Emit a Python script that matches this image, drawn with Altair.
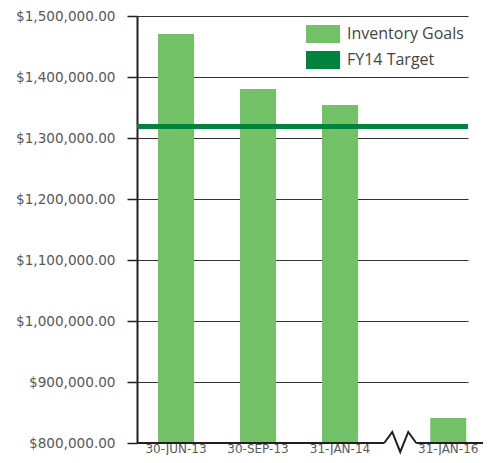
import altair as alt
import pandas as pd

# ---- data ----
categories = ["30-JUN-13", "30-SEP-13", "31-JAN-14", "31-JAN-16"]
values = [1470500, 1380300, 1354100, 841000]
target_value = 1319000
break_before = "31-JAN-16"          # axis break drawn just before this category
series_names = ["Inventory Goals", "FY14 Target"]
series_colors = ["#72C167", "#00843D"]
y_ticks = [800000, 900000, 1000000, 1100000, 1200000, 1300000, 1400000, 1500000]

df = pd.DataFrame({"category": categories, "value": values})
tdf = pd.DataFrame({"target": [target_value]})

W, H = 331, 427
FONT = "Open Sans"
AXFONT = "DejaVu Sans"
DARK = "#231F20"
GREY = "#58595B"

base = alt.Chart(df).transform_window(
    idx="row_number()"
).transform_calculate(
    pos=f"datum.idx - 1 + (datum.category == '{break_before}' ? 0.32 : 0)",
    series=f"'{series_names[0]}'",
)

xscale = alt.Scale(domain=[-0.4756, 3.561], nice=False, zero=False, padding=0)
yscale = alt.Scale(domain=[800000, 1500000], nice=False, zero=False, padding=0)

x_enc = alt.X("pos:Q", scale=xscale, axis=None)

bars = base.mark_bar(size=36).encode(
    x=x_enc,
    y=alt.Y("value:Q", scale=yscale,
            axis=alt.Axis(values=y_ticks, format="$,.2f", title=None,
                          domain=True, domainColor=DARK, domainWidth=2,
                          ticks=True, tickSize=10, tickColor=DARK, tickWidth=1.5,
                          grid=True, gridColor="#333333", gridWidth=1,
                          labelFont=AXFONT, labelFontSize=13.6, labelColor=GREY,
                          labelPadding=12)),
    y2=alt.Y2(datum=800000),
    color=alt.Color(
        "series:N",
        scale=alt.Scale(domain=series_names, range=series_colors),
        legend=alt.Legend(
            orient="none", legendX=177, legendY=9, title=None, padding=0,
            symbolType="M-1.89,-1L1.89,-1L1.89,1L-1.89,1Z", symbolSize=324,
            symbolStrokeWidth=0, symbolOpacity=1,
            labelFont=FONT, labelFontSize=16, labelColor="#444444",
            labelOffset=15, rowPadding=8,
        ),
    ),
)

target = alt.Chart(tdf).mark_rule(strokeWidth=5, color=series_colors[1]).encode(
    y=alt.Y("target:Q", scale=yscale)
)

baseline = alt.Chart(tdf).mark_rule(strokeWidth=2, color=DARK).encode(
    y=alt.YDatum(800000, scale=yscale),
    x=alt.value(0), x2=alt.value(346),
)

brk = base.transform_filter(f"datum.category == '{break_before}'")

cover = brk.mark_point(
    shape="M-1,-0.25L1,-0.25L1,0.25L-1,0.25Z", size=1024, filled=True,
    fill="white", strokeWidth=0, opacity=1, xOffset=-48,
).encode(x=x_enc, y=alt.YDatum(800000, scale=yscale))

zig = brk.mark_point(
    shape="M-1,0L-0.5,-0.69L0,0.56L0.5,-0.69L1,0", size=1024, filled=False,
    stroke=DARK, strokeWidth=2, opacity=1, xOffset=-48,
).encode(x=x_enc, y=alt.YDatum(800000, scale=yscale))

labels = base.mark_text(
    baseline="alphabetic", dy=10, font=AXFONT, fontSize=12, color=GREY
).encode(x=x_enc, y=alt.YDatum(800000, scale=yscale), text="category:N")

chart = alt.layer(bars, target, baseline, cover, zig, labels).properties(
    width=W, height=H,
    autosize=alt.AutoSizeParams(type="none"),
    padding={"left": 129, "top": 8, "right": 15, "bottom": 12},
).configure_view(stroke=None)

chart.save("out.html", embed_options={"renderer": "svg", "actions": False})
